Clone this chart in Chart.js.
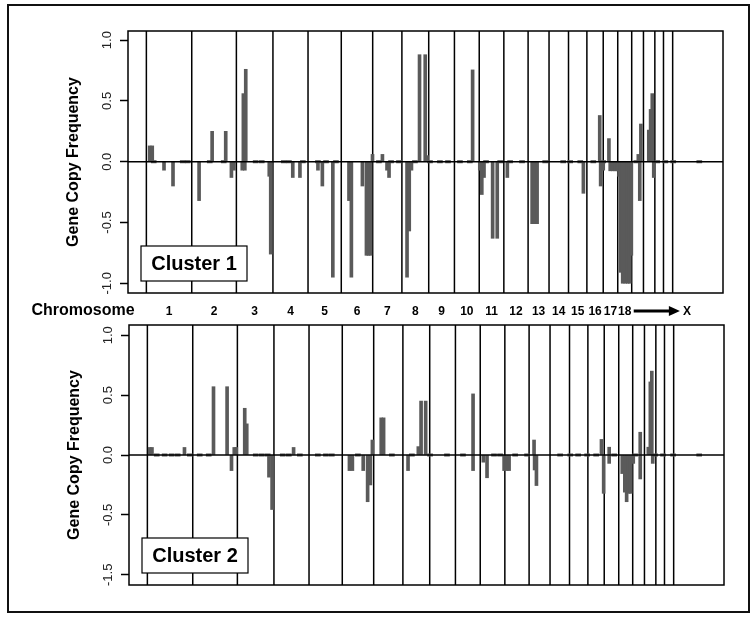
<!DOCTYPE html>
<html>
<head>
<meta charset="utf-8">
<title>Gene copy frequency by chromosome</title>
<script src="https://cdn.jsdelivr.net/npm/chart.js@4.4.1/dist/chart.umd.min.js"></script>
<style>
  body { margin: 0; background: #fff; }
  #wrap { position: relative; width: 755px; height: 620px; overflow: hidden; background: #fff; }
  #frame { position: absolute; left: 7px; top: 4px; width: 743px; height: 609px; border: 2px solid #111; box-sizing: border-box; }
  canvas { position: absolute; }
  #c1 { left: 0; top: 0; }
  #c2 { left: 1px; top: 300px; }
</style>
</head>
<body>
<div id="wrap">
  <div id="frame"></div>
  <canvas id="c1" width="755" height="326"></canvas>
  <canvas id="c2" width="754" height="310"></canvas>
</div>
<script>
// chromosomes and their lengths (Mb), laid end to end along the x axis
const chromNames = ['1', '2', '3', '4', '5', '6', '7', '8', '9', '10', '11', '12', '13', '14', '15', '16', '17', '18', '19', '20', '21', '22', 'X'];
const chromLengths = [247, 243, 199, 191, 181, 171, 159, 146, 140, 135, 134, 132, 114, 106, 100, 89, 79, 76, 64, 62, 47, 50, 155];
const labelledChroms = ['1', '2', '3', '4', '5', '6', '7', '8', '9', '10', '11', '12', '13', '14', '15', '16', '17', '18', 'X'];

const yTickValues = [-1, -0.5, 0, 0.5, 1];
const yTickLabels1 = ['-1.0', '-0.5', '0.0', '0.5', '1.0'];
const yTickLabels2 = ['-1.5', '-0.5', '0.0', '0.5', '1.0'];

// cluster 1: genome position (Mb) and gene copy frequency
const cluster1Pos = [18, 32, 96, 145, 287, 358, 432, 463, 477, 522, 528, 536, 541, 669, 677, 797, 836, 934, 958, 1015,
  1103, 1116, 1176, 1198, 1209, 1220, 1231, 1285, 1310, 1321, 1419, 1431, 1443, 1487, 1518, 1528, 1776,
  1815, 1826, 1838, 1885, 1910, 1965, 2100, 2113, 2127, 2379, 2468, 2473, 2487, 2518, 2525, 2539, 2552, 2563,
  2573, 2582, 2593, 2607, 2620, 2631, 2640, 2678, 2686, 2692, 2735, 2745, 2754, 2762];
const cluster1Freq = [0.13, 0.13, -0.07, -0.2, -0.32, 0.25, 0.25, -0.13, -0.07, -0.07, 0.56, -0.07, 0.76, -0.12, -0.76, -0.13, -0.13, -0.07, -0.2, -0.95,
  -0.32, -0.95, -0.2, -0.77, -0.77, -0.77, 0.06, 0.06, -0.07, -0.13, -0.95, -0.57, -0.07, 0.88, 0.88, 0.05, 0.755,
  -0.07, -0.27, -0.13, -0.63, -0.63, -0.13, -0.51, -0.51, -0.51, -0.26, 0.38, -0.2, -0.07, 0.19, -0.075, -0.075, -0.075, -0.075,
  -0.12, -0.91, -1.0, -1.0, -1.0, -1.0, -0.77, 0.06, -0.32, 0.31, 0.26, 0.43, 0.56, -0.13];
// probes sitting on zero
const cluster1Flat = [40, 198, 225, 345, 421, 595, 628, 748, 776, 852, 934, 978, 1032, 1266, 1332, 1375, 1462, 1544, 1598,
  1642, 1707, 1761, 1849, 1926, 1980, 2045, 2171, 2269, 2307, 2362, 2433, 2487, 2667, 2781, 2825, 2868, 3010];

// cluster 2
const cluster2Pos = [13, 25, 202, 360, 434, 458, 473, 484, 530, 541, 662, 679, 796, 1100, 1116, 1175, 1199, 1214, 1225,
  1273, 1286, 1419, 1475, 1490, 1515, 1773, 1773, 1829, 1849, 1942, 1955, 1969, 2105, 2108, 2118, 2472, 2484,
  2514, 2514, 2585, 2599, 2609, 2620, 2631, 2645, 2683, 2683, 2727, 2738, 2746, 2751];
const cluster2Freq = [0.063, 0.063, 0.063, 0.57, 0.57, -0.13, 0.063, 0.063, 0.39, 0.26, -0.185, -0.455, 0.063, -0.13, -0.13, -0.13, -0.39, -0.25, 0.125,
  0.31, 0.31, -0.13, 0.07, 0.45, 0.45, 0.51, -0.13, -0.06, -0.19, -0.13, -0.13, -0.13, 0.125, -0.125, -0.255, 0.13, -0.32,
  0.065, -0.07, -0.155, -0.31, -0.39, -0.32, -0.32, -0.07, 0.19, -0.2, 0.065, 0.61, 0.7, -0.07];
const cluster2Flat = [51, 94, 132, 165, 231, 285, 334, 590, 623, 655, 737, 770, 830, 928, 972, 1004, 1146, 1331, 1440,
  1539, 1631, 1718, 1887, 1920, 2002, 2067, 2247, 2302, 2345, 2394, 2443, 2541, 2655, 2764, 2807, 2862, 3004];

// where each chromosome starts along the genome
const chromStarts = [];
let acc = 0;
for (const len of chromLengths) {
  chromStarts.push(acc);
  acc += len;
}
const labelCentres = labelledChroms.map((n) => {
  const i = chromNames.indexOf(n);
  return chromStarts[i] + chromLengths[i] / 2;
});

const FONT = 'Arial, "Liberation Sans", Helvetica, sans-serif';
const BAR_COLOR = '#5a5a5a';
Chart.defaults.font.family = FONT;

const toBars = (pos, freq) => pos.map((p, i) => ({ x: p, y: freq[i] }));
const toFlat = (pos) => pos.map((p) => ({ x: p, y: [-0.01, 0.01] }));

//chromosome boundaries, frame, zero line and the cluster box
const chromPlugin = {
  id: 'chromLines',
  beforeDatasetsDraw(chart) {
    const { ctx, chartArea: a, scales: { x } } = chart;
    ctx.save();
    ctx.strokeStyle = '#000';
    ctx.lineWidth = 1.5;
    ctx.beginPath();
    for (let i = 0; i < chromStarts.length; i++) {
      const px = x.getPixelForValue(chromStarts[i]);
      ctx.moveTo(px, a.top);
      ctx.lineTo(px, a.bottom);
    }
    ctx.stroke();
    ctx.strokeRect(a.left, a.top, a.width, a.height);
    ctx.restore();
  },
  afterDatasetsDraw(chart) {
    const { ctx, chartArea: a, scales: { y } } = chart;
    const y0 = y.getPixelForValue(0);
    ctx.save();
    ctx.strokeStyle = '#000';
    ctx.lineWidth = 1.5;
    ctx.beginPath();
    ctx.moveTo(a.left, y0);
    ctx.lineTo(a.right, y0);
    ctx.stroke();
    ctx.restore();
  },
  afterDraw(chart, args, opts) {
    const { ctx, chartArea: a, scales: { x } } = chart;
    ctx.save();
    const bw = 106, bh = 35;
    const bx = a.left + 13, by = a.bottom - 12 - bh;
    ctx.fillStyle = '#fff';
    ctx.fillRect(bx, by, bw, bh);
    ctx.strokeStyle = '#000';
    ctx.lineWidth = 1.2;
    ctx.strokeRect(bx, by, bw, bh);
    ctx.fillStyle = '#000';
    ctx.font = 'bold 20px ' + FONT;
    ctx.textAlign = 'center';
    ctx.textBaseline = 'middle';
    ctx.fillText(opts.label, bx + bw / 2, by + bh / 2 + 1);

    if (opts.chromosomeRow) {
      const ry = a.bottom + 18;
      ctx.font = 'bold 16px ' + FONT;
      ctx.fillText('Chromosome', a.left - 45, ry);
      // arrow from 18 over to X
      const x0 = x.getPixelForValue(labelCentres[labelledChroms.indexOf('18')]) + 9;
      const x1 = x.getPixelForValue(labelCentres[labelledChroms.indexOf('X')]) - 7;
      ctx.lineWidth = 3;
      ctx.beginPath();
      ctx.moveTo(x0, ry);
      ctx.lineTo(x1 - 8, ry);
      ctx.stroke();
      ctx.beginPath();
      ctx.moveTo(x1, ry);
      ctx.lineTo(x1 - 11, ry - 5);
      ctx.lineTo(x1 - 11, ry + 5);
      ctx.closePath();
      ctx.fill();
    }
    ctx.restore();
  }
};

const makeChart = (id, cfg) => new Chart(document.getElementById(id), {
  type: 'bar',
  data: {
    datasets: [
      {
        data: toFlat(cfg.flat),
        backgroundColor: BAR_COLOR,
        barThickness: 5,
        grouped: false,
      },
      {
        data: toBars(cfg.pos, cfg.freq),
        backgroundColor: BAR_COLOR,
        barThickness: 3,
        grouped: false,
      },
    ],
  },
  options: {
    responsive: false,
    animation: false,
    layout: { padding: cfg.padding },
    plugins: {
      legend: { display: false },
      tooltip: { enabled: false },
      chromLines: { label: cfg.label, chromosomeRow: cfg.chromosomeRow },
    },
    scales: {
      x: {
        type: 'linear',
        display: cfg.chromosomeRow,
        min: -100,
        max: 3139,
        offset: false,
        afterBuildTicks: (s) => { s.ticks = labelCentres.map((v) => ({ value: v })); },
        afterFit: (s) => { s.height = cfg.chromosomeRow ? 33 : 0; },
        border: { display: false },
        grid: { drawOnChartArea: false, drawTicks: false },
        ticks: {
          autoSkip: false,
          maxRotation: 0,
          minRotation: 0,
          padding: 11,
          color: '#000',
          font: { size: 12, weight: 'bold' },
          callback: (v, i) => labelledChroms[i],
        },
      },
      y: {
        min: cfg.yMin,
        max: cfg.yMax,
        afterBuildTicks: (s) => { s.ticks = yTickValues.map((v) => ({ value: v })); },
        afterFit: (s) => { s.width = 64; },
        border: { display: false },
        grid: { drawOnChartArea: false, drawTicks: true, tickLength: 8, tickColor: '#000', tickWidth: 1.5 },
        ticks: {
          minRotation: 90,
          maxRotation: 90,
          crossAlign: 'center',
          padding: 1,
          color: '#222',
          font: { size: 13 },
          callback: (v, i) => cfg.tickLabels[i],
        },
        title: {
          display: true,
          text: 'Gene Copy Frequency',
          color: '#000',
          font: { size: 16, weight: 'bold' },
          padding: { top: 0, bottom: 0 },
        },
      },
    },
  },
  plugins: [chromPlugin],
});

const chart1 = makeChart('c1', {
  pos: cluster1Pos, freq: cluster1Freq, flat: cluster1Flat,
  tickLabels: yTickLabels1, yMin: -1.08, yMax: 1.075,
  label: 'Cluster 1', chromosomeRow: true,
  padding: { left: 64, top: 31, right: 32, bottom: 0 },
});

const chart2 = makeChart('c2', {
  pos: cluster2Pos, freq: cluster2Freq, flat: cluster2Flat,
  tickLabels: yTickLabels2, yMin: -1.085, yMax: 1.085,
  label: 'Cluster 2', chromosomeRow: false,
  padding: { left: 64, top: 25, right: 31, bottom: 25 },
});
</script>
</body>
</html>
